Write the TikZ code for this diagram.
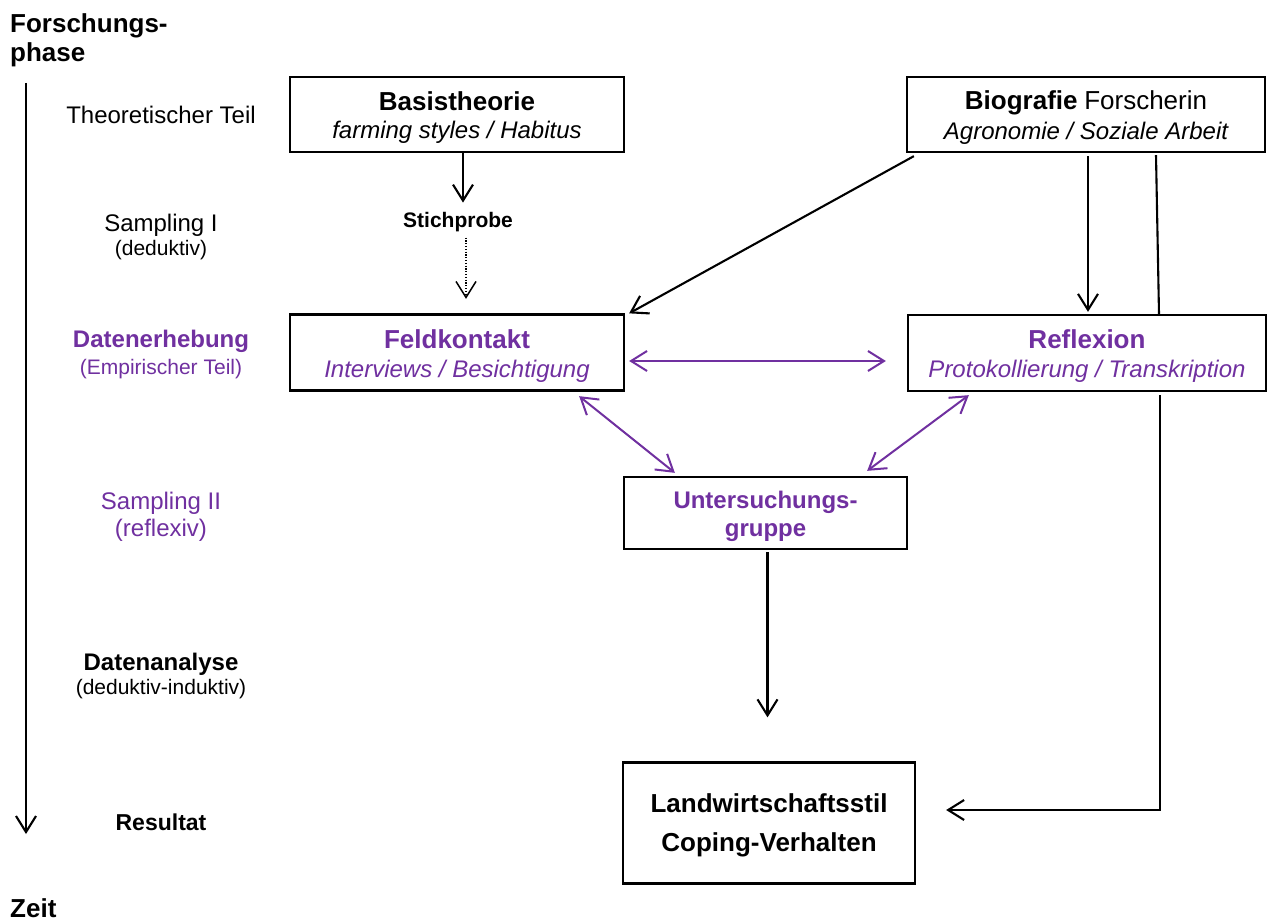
\documentclass[tikz,border=0pt]{standalone}
\usepackage{fontspec}
\setmainfont{Liberation Sans}
\usetikzlibrary{arrows.meta}
\definecolor{vio}{HTML}{7030A0}
\newcommand\fsz[2]{\fontsize{#1}{#2}\selectfont}
% invisible strut that sets the height of a first text line
\newcommand\topstrut[1]{\rule{0pt}{#1}}

\begin{document}
\begin{tikzpicture}[x=1pt,y=-1pt,
  >={Straight Barb[length=16pt,width=20pt]},
  box/.style={draw, line width=2.3pt, inner sep=0pt, align=center},
  lbl/.style={inner sep=0pt, anchor=base},
  head/.style={inner sep=0pt, anchor=base west, font=\fsz{26}{30}\bfseries},
  plain/.style={line width=2.1pt},
  conn/.style={line width=2.1pt, ->},
  dotline/.style={line width=1.5pt, dash pattern=on 1.3pt off 1.5pt},
  both/.style={line width=2pt, draw=vio, <->},
]
\fill[white] (0,0) rectangle (1267,923);
\useasboundingbox (0,0) rectangle (1267,923);

% axis labels and time axis
\node[head] (fp1) at (10,33) {Forschungs-};
\node[head] (fp2) at (10,62) {phase};
\node[head] (zeit) at (10,917) {Zeit};
\coordinate (ta) at (26,83);
\coordinate (tb) at (26,834);
\draw[conn] (ta) -- (tb);

% phase labels
\node[lbl, font=\fsz{24}{28}] (theo) at (161,123.5) {Theoretischer Teil};
\node[lbl, font=\fsz{24}{28}] (samp1) at (161,231) {Sampling I};
\node[lbl, font=\fsz{21}{25}] (samp1b) at (161,255) {(deduktiv)};
\node[lbl, font=\fsz{24}{28}\bfseries, text=vio] (erh) at (161,347) {Datenerhebung};
\node[lbl, font=\fsz{21}{25}, text=vio] (erhb) at (161,374) {(Empirischer Teil)};
\node[lbl, font=\fsz{24}{28}, text=vio] (samp2) at (161,509) {Sampling II};
\node[lbl, font=\fsz{24}{28}, text=vio] (samp2b) at (161,536) {(reflexiv)};
\node[lbl, font=\fsz{24}{28}\bfseries] (ana) at (161,670) {Datenanalyse};
\node[lbl, font=\fsz{21}{25}] (anab) at (161,694) {(deduktiv-induktiv)};
\node[lbl, font=\fsz{23}{28}\bfseries] (res) at (161,830) {Resultat};

% boxes
\node[box, font=\fsz{24}{28}, minimum width=334pt, minimum height=75pt] (basis) at (457,114.5)
  {\topstrut{25pt}{\fsz{26}{28}\bfseries Basistheorie}\\{\itshape farming styles / Habitus}};
\node[box, font=\fsz{24}{30}, minimum width=358pt, minimum height=75pt] (bio) at (1086,114.5)
  {\topstrut{25pt}{\fsz{26}{30}\bfseries Biografie} {\fsz{26}{30}Forscherin}\\{\itshape Agronomie / Soziale Arbeit}};
\node[box, font=\fsz{24}{29}, text=vio, minimum width=334pt, minimum height=76pt] (feld) at (457,352.5)
  {\topstrut{25pt}{\fsz{26}{29}\bfseries Feldkontakt}\\{\itshape Interviews / Besichtigung}};
\node[box, font=\fsz{24}{29}, text=vio, minimum width=358pt, minimum height=76pt] (refl) at (1087,353)
  {\topstrut{25pt}{\fsz{26}{29}\bfseries Reflexion}\\{\itshape Protokollierung / Transkription}};
\node[box, font=\fsz{24}{28}\bfseries, text=vio, minimum width=283pt, minimum height=72pt] (unter) at (765.5,513)
  {\topstrut{23.5pt}Untersuchungs-\\gruppe};
\node[box, font=\fsz{26}{39}\bfseries, minimum width=292pt, minimum height=121pt] (land) at (769,823)
  {\topstrut{24pt}Landwirtschaftsstil\\Coping-Verhalten};

\node[lbl, font=\fsz{21}{25}\bfseries] (stich) at (458,227) {Stichprobe};

% black connectors
\draw[conn, shorten >=9pt] ([xshift=6pt]basis.south) -- ([xshift=6pt]basis.south |- stich.north);
\draw[conn, dotline, shorten <=6pt, shorten >=14.5pt] ([xshift=8pt]stich.south) -- ([xshift=8pt]stich.south |- feld.north);
\draw[conn] ([xshift=8pt,yshift=-3pt]bio.south west) -- ([xshift=4pt]feld.north east);
\draw[conn] ([xshift=2pt,yshift=-3pt]bio.south) -- ([xshift=1pt,yshift=2pt]refl.north);
\draw[plain] ([xshift=70pt,yshift=-2pt]bio.south) -- ([xshift=72pt]refl.north);
\draw[conn, shorten >=30pt] ([xshift=73pt,yshift=-3pt]refl.south) |- ([yshift=13pt]land.east);
\draw[conn, shorten >=44pt] ([xshift=2pt,yshift=-2pt]unter.south) -- ([xshift=2pt]unter.south |- land.north);

% purple two-way connectors
\draw[both] ([xshift=4pt,yshift=-8.5pt]feld.east) -- ([xshift=-21pt,yshift=-8pt]refl.west);
\draw[both] ([xshift=-46pt,yshift=-4.5pt]feld.south east) -- ([xshift=52pt,yshift=3pt]unter.north west);
\draw[both] ([xshift=62pt,yshift=-3pt]refl.south west) -- ([xshift=-41pt,yshift=5pt]unter.north east);
\end{tikzpicture}
\end{document}
